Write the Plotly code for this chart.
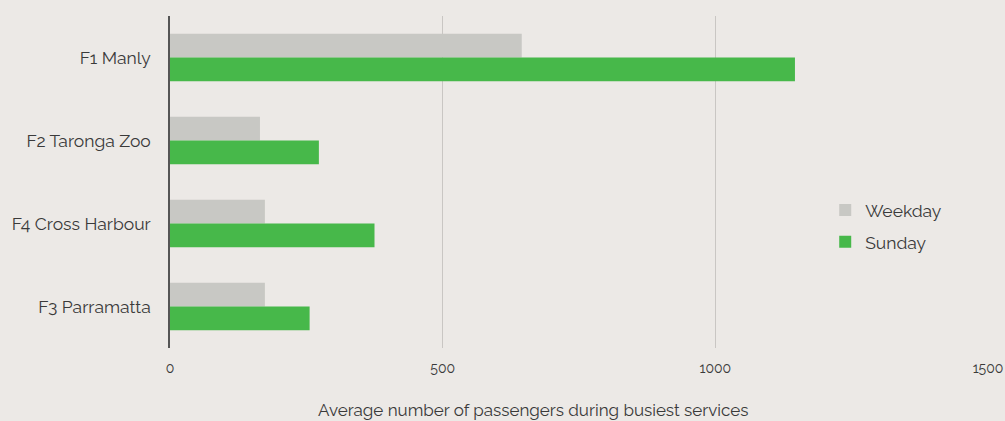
import plotly.graph_objects as go

categories = ["F1 Manly", "F2 Taronga Zoo", "F4 Cross Harbour", "F3 Parramatta"]
weekday = [645, 165, 174, 174]
sunday = [1146, 273, 375, 256]
x_ticks = [0, 500, 1000, 1500]
x_title = "Average number of passengers during busiest services"

BG = "#ECE9E6"
FONT = "Raleway, Lato, 'Open Sans', sans-serif"

fig = go.Figure()
fig.add_trace(go.Bar(y=categories, x=weekday, orientation="h", name="Weekday",
                     legendgroup="a",
                     marker=dict(color="#C8C8C4", line=dict(width=0))))
fig.add_trace(go.Bar(y=categories, x=sunday, orientation="h", name="Sunday",
                     legendgroup="b",
                     marker=dict(color="#47B84A", line=dict(width=0))))

fig.update_layout(
    width=1005, height=421,
    paper_bgcolor=BG, plot_bgcolor=BG,
    margin=dict(l=170, r=17, t=16, b=73, autoexpand=False),
    barmode="group", bargap=0.43, bargroupgap=0,
    font=dict(family=FONT, color="#3a3a3a"),
    legend=dict(x=0.801, y=0.367, xanchor="left", yanchor="middle",
                bgcolor="rgba(0,0,0,0)", font=dict(size=17.5, color="#3a3a3a"),
                itemwidth=30, tracegroupgap=6),
    xaxis=dict(range=[0, 1500], tickvals=x_ticks, ticktext=[str(v) for v in x_ticks],
               showgrid=True, gridcolor="#C9C6C3", gridwidth=1, zeroline=False,
               showline=False, tickfont=dict(size=14, color="#3a3a3a"),
               ticklabelstandoff=10, automargin=False),
    yaxis=dict(autorange="reversed", showgrid=False, zeroline=False,
               showline=True, linecolor="#555555", linewidth=1.5,
               tickfont=dict(size=17.5, color="#3a3a3a"), ticklabelstandoff=14,
               automargin=False),
    annotations=[dict(text=x_title, xref="paper", yref="paper",
                      x=0.4438, y=-0.188, xanchor="center", yanchor="middle",
                      showarrow=False, font=dict(size=17, color="#3a3a3a"))],
)

fig.write_html("out.html", config={"displayModeBar": False},
               post_script="document.body.style.margin='0';document.body.style.background='" + BG + "';")
